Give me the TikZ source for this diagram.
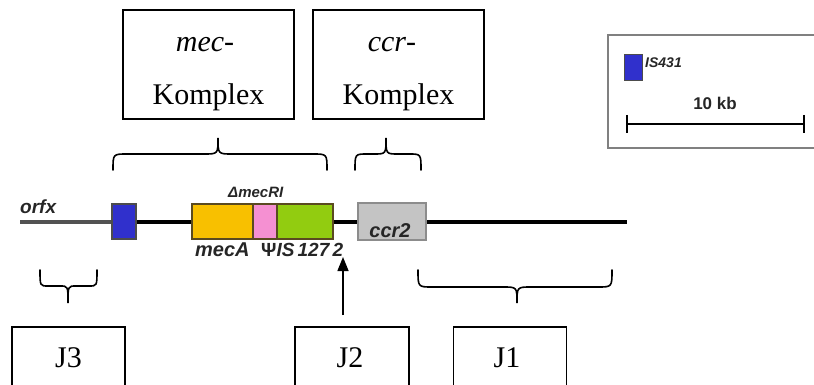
\documentclass[tikz,border=0pt]{standalone}
\usepackage{fontspec}
\setmainfont{Liberation Serif}
\newfontfamily\genefont{Liberation Sans}
\usetikzlibrary{arrows.meta}

\definecolor{isblue}{HTML}{3030CC}
\definecolor{mecyellow}{HTML}{F8C000}
\definecolor{mecpink}{HTML}{F590D2}
\definecolor{isgreen}{HTML}{92CC10}
\definecolor{ccrgray}{HTML}{C4C4C4}
\definecolor{geneedge}{HTML}{5A4A20}

% curly brace: x-left, x-right, x-tip, y-ends, y-bar, y-tip, corner radius
\newcommand\curlybrace[7]{%
  \draw[bracket] (#1,#4) .. controls (#1,#5) .. ({#1+#7},#5) -- ({#3-#7},#5)
    .. controls (#3,#5) .. (#3,#6) .. controls (#3,#5) .. ({#3+#7},#5)
    -- ({#2-#7},#5) .. controls (#2,#5) .. (#2,#4);}

\begin{document}
\begin{tikzpicture}[x=1pt,y=-1pt,
  labelbox/.style={draw, line width=1.8pt, inner sep=0pt},
  bigtext/.style={font=\fontsize{30}{36}\selectfont, inner sep=0pt, anchor=base},
  genebox/.style={draw=geneedge, line width=1.2pt, inner sep=0pt, minimum height=35pt},
  genelabel/.style={inner sep=0pt, anchor=base west, text=black!85},
  bracket/.style={line width=1.6pt, line cap=round},
  backbone/.style={line width=3.5pt}]

\useasboundingbox (0,0) rectangle (814,385);

% complex boxes on top
\node[labelbox, minimum width=171pt, minimum height=109pt] (mecbox) at (208.5,64.5) {};
\node[bigtext] (mectop) at (205,52) {\textit{mec}-};
\node[bigtext] (mecbot) at (208.5,105) {Komplex};
\node[labelbox, minimum width=171pt, minimum height=109pt] (ccrbox) at (398.5,64.5) {};
\node[bigtext] (ccrtop) at (392,52) {\textit{ccr}-};
\node[bigtext] (ccrbot) at (398.5,105) {Komplex};

% braces over the complexes
\curlybrace{113}{327}{218}{170}{154}{138}{14}
\curlybrace{355}{421}{386}{170}{154}{138}{12}

% chromosome backbone
\draw[backbone, black!68] (20,222) -- (114,222);
\draw[backbone] (114,222) -- (627,222);

% genetic elements
\node[genebox, draw=black!70, fill=isblue, minimum width=24pt] (is431) at (124,221.5) {};
\node[genebox, fill=mecyellow, minimum width=61pt] (meca) at (222.5,221.5) {};
\node[genebox, fill=mecpink, minimum width=24pt] (mecr) at (265,221.5) {};
\node[genebox, fill=isgreen, minimum width=56pt] (is1272) at (305,221.5) {};
\node[genebox, draw=black!45, fill=ccrgray, minimum width=68pt, minimum height=37pt] (ccr) at (392,221.5) {};
\node[genelabel, font=\genefont\bfseries\itshape\fontsize{20}{20}\selectfont, anchor=base] (ccrlabel) at (390,237) {ccr2};

% element labels
\node[genelabel, font=\genefont\bfseries\itshape\fontsize{19}{19}\selectfont] (orfx) at (20,213) {orfx};
\node[genelabel, font=\genefont\bfseries\itshape\fontsize{15}{15}\selectfont] (mecrlabel) at (228,197) {Δ\textit{mecRI}};
\node[genelabel, font=\genefont\bfseries\itshape\fontsize{20}{20}\selectfont] (mecalabel) at (195,256) {mecA};
\node[genelabel, font=\genefont\bfseries\fontsize{19}{19}\selectfont] (islabel) at (261,256) {Ψ\textit{IS\,127\,2}};

% junction arrow
\coordinate (arrowfoot) at (343,315);
\coordinate (arrowtip) at (343,257);
\draw[line width=1.5pt, -{Triangle[length=14pt,width=11pt]}] (arrowfoot) -- (arrowtip);

% braces under the junction regions
\curlybrace{40}{97}{68}{270}{286}{303}{8}
\curlybrace{418}{612}{517}{270}{287}{303}{14}

% junction boxes
\node[labelbox, minimum width=113pt, minimum height=62pt] (j3) at (68.5,358) {};
\node[bigtext] (j3text) at (68.5,367) {J3};
\node[labelbox, minimum width=114pt, minimum height=62pt] (j2) at (352,358) {};
\node[bigtext] (j2text) at (350,367) {J2};
\node[labelbox, minimum width=113pt, minimum height=62pt] (j1) at (510,358) {};
\node[bigtext] (j1text) at (507,367) {J1};

% legend
\node[draw=black!50, line width=2pt, inner sep=0pt, minimum width=223pt, minimum height=113pt, anchor=north west] (legend) at (607,34) {};
\node[draw=black!70, line width=1pt, fill=isblue, inner sep=0pt, minimum width=18pt, minimum height=26pt] (legis) at (633,68) {};
\node[genelabel, font=\genefont\bfseries\itshape\fontsize{14}{14}\selectfont] (legislabel) at (645,68) {IS\textit{431}};
\node[genelabel, font=\genefont\bfseries\fontsize{17}{17}\selectfont, anchor=base] (scalelabel) at (715,110) {10 kb};
\coordinate (barleft) at (627,124);
\coordinate (barright) at (804,124);
\draw[line width=2.5pt] (barleft) -- (barright);
\draw[line width=2.5pt] ([yshift=9pt]barleft) -- ([yshift=-9pt]barleft);
\draw[line width=2.5pt] ([yshift=9pt]barright) -- ([yshift=-9pt]barright);
\end{tikzpicture}
\end{document}
